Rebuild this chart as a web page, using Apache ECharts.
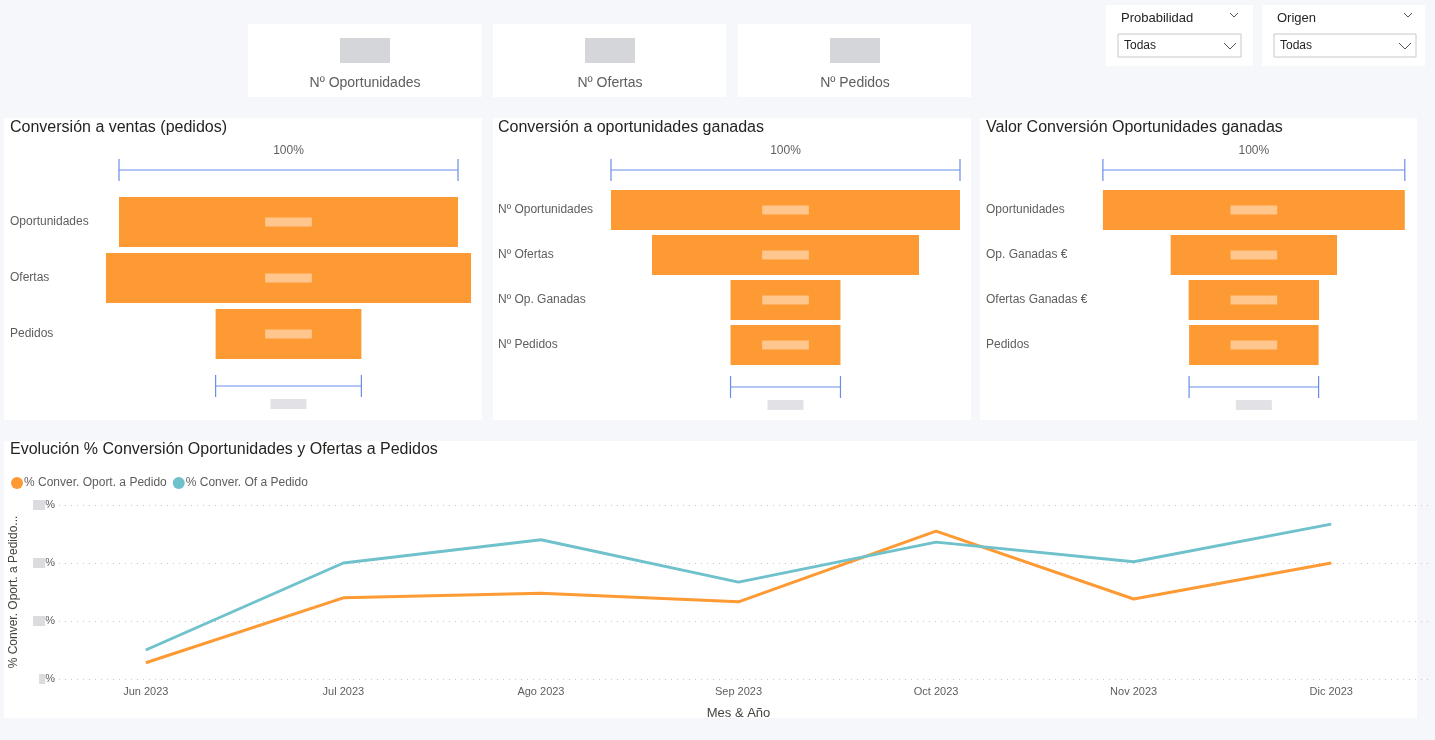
<!DOCTYPE html>
<html><head><meta charset="utf-8">
<script src="https://cdn.jsdelivr.net/npm/echarts@6/dist/echarts.min.js"></script>
<style>html,body{margin:0;padding:0;background:#f6f7fb}#c{width:1435px;height:740px}</style>
</head><body><div id="c"></div>
<script>
// ---- data ----
const months = ['Jun 2023','Jul 2023','Ago 2023','Sep 2023','Oct 2023','Nov 2023','Dic 2023'];
const convOportPedido = [0.28,1.40,1.48,1.33,2.55,1.38,2.00];
const convOfPedido = [0.50,2.00,2.40,1.67,2.36,2.02,2.67];
const f1Cats = ['Oportunidades','Ofertas','Pedidos'];
const f1Vals = [1, 1.077, 0.43];
const f2Cats = ['Nº Oportunidades','Nº Ofertas','Nº Op. Ganadas','Nº Pedidos'];
const f2Vals = [1, 0.765, 0.315, 0.315];
const f3Cats = ['Oportunidades','Op. Ganadas €','Ofertas Ganadas €','Pedidos'];
const f3Vals = [1, 0.551, 0.432, 0.429];
const cardLabels = ['Nº Oportunidades','Nº Ofertas','Nº Pedidos'];

const chart = echarts.init(document.getElementById('c'));
const FONT = '"Liberation Sans", Arial, sans-serif';
const ORANGE = '#fe9a33', TEAL = '#6fc1cb', BLUE = '#6a8de8';

const funnels = [
  {cats:f1Cats, vals:f1Vals, center:288.5, unit:339, top:194, h:168, barW:50, dt:27, db:27},
  {cats:f2Cats, vals:f2Vals, center:785.5, unit:349, top:187.5, h:180, barW:40, dt:20, db:22},
  {cats:f3Cats, vals:f3Vals, center:1254.5, unit:303, top:187.5, h:180, barW:40, dt:20, db:22}
];
const panelLeft = [10, 498, 986];
const M = 1.2;
const grids = [], xAxes = [], yAxes = [], series = [];
funnels.forEach((f, i) => {
  const w = M * f.unit;
  grids.push({left: f.center - w/2, top: f.top, width: w, height: f.h});
  xAxes.push({gridIndex:i, type:'value', min:0, max:M, show:false});
  yAxes.push({gridIndex:i, type:'category', data:f.cats, inverse:true,
    axisLine:{show:false}, axisTick:{show:false},
    axisLabel:{align:'left', margin: f.center - w/2 - panelLeft[i], color:'#605e5c', fontSize:12, fontFamily:FONT}});
  series.push({type:'bar', xAxisIndex:i, yAxisIndex:i, stack:'f'+i, silent:true,
    itemStyle:{color:'transparent'}, barWidth:f.barW, data:f.vals.map(v => (M - v)/2)});
  series.push({type:'bar', xAxisIndex:i, yAxisIndex:i, stack:'f'+i, barWidth:f.barW,
    itemStyle:{color:ORANGE}, data:f.vals,
    label:{show:true, position:'inside', formatter:'{a|              }',
      rich:{a:{backgroundColor:'rgba(255,235,215,0.55)', height:9}}}});
  const n = f.vals.length;
  series.push({type:'custom', xAxisIndex:i, yAxisIndex:i, silent:true,
    data:[[f.vals[0], 0, -1], [f.vals[n-1], n-1, 1]],
    renderItem:(params, api) => {
      const v = api.value(0), ci = api.value(1), dir = api.value(2);
      const p0 = api.coord([(M - v)/2, ci]);
      const p1 = api.coord([(M + v)/2, ci]);
      const y = p0[1] + dir * (f.barW/2 + (dir < 0 ? f.dt : f.db));
      const st = {stroke:BLUE, lineWidth:1.2};
      const ch = [
        {type:'line', shape:{x1:p0[0], y1:y, x2:p1[0], y2:y}, style:st},
        {type:'line', shape:{x1:p0[0], y1:y-11, x2:p0[0], y2:y+11}, style:st},
        {type:'line', shape:{x1:p1[0], y1:y-11, x2:p1[0], y2:y+11}, style:st}
      ];
      const cx = (p0[0]+p1[0])/2;
      if (dir < 0) ch.push({type:'text', style:{text:'100%', x:cx, y:y-19, align:'center', verticalAlign:'middle', fill:'#605e5c', font:'12px '+FONT}});
      else ch.push({type:'rect', shape:{x:cx-18, y:y+13, width:36, height:10}, style:{fill:'#e2e2e6'}});
      return {type:'group', children:ch};
    }});
});

// line chart
grids.push({left:46, top:505, width:1384, height:174});
xAxes.push({gridIndex:3, type:'category', data:months, boundaryGap:true,
  axisLine:{show:false}, axisTick:{show:false},
  axisLabel:{color:'#605e5c', fontSize:11, fontFamily:FONT, margin:7},
  name:'Mes & Año', nameLocation:'middle', nameGap:28, nameTextStyle:{color:'#444', fontSize:13, fontFamily:FONT}});
yAxes.push({gridIndex:3, type:'value', min:0, max:3, interval:1,
  axisLine:{show:false}, axisTick:{show:false},
  splitLine:{lineStyle:{type:[1,5], color:'#c8c8c8'}},
  axisLabel:{formatter: v => '{b|' + (v===0?'  ':'    ') + '}%', color:'#605e5c', fontSize:11, margin:-8, fontFamily:FONT,
    rich:{b:{backgroundColor:'#dcdce0', height:10}}},
  name:'% Conver. Oport. a Pedido...', nameLocation:'middle', nameGap:27, nameRotate:90,
  nameTextStyle:{color:'#444', fontSize:12, fontFamily:FONT}});
series.push({name:'% Conver. Oport. a Pedido', type:'line', xAxisIndex:3, yAxisIndex:3, data:convOportPedido,
  showSymbol:false, lineStyle:{width:3, color:ORANGE}, itemStyle:{color:ORANGE}});
series.push({name:'% Conver. Of a Pedido', type:'line', xAxisIndex:3, yAxisIndex:3, data:convOfPedido,
  showSymbol:false, lineStyle:{width:3, color:TEAL}, itemStyle:{color:TEAL}});

// panels & text
const g = [];
const rect = (x,y,w,h) => g.push({type:'rect', shape:{x,y,width:w,height:h}, style:{fill:'#fff'}, z:-10});
rect(248,24,234,73); rect(493,24,233,73); rect(738,24,233,73);
rect(1106,5,147,61); rect(1262,5,163,61);
rect(4,118,478,302); rect(493,118,478,302); rect(980,118,437,302);
rect(4,441,1413,277);
[365,610,855].forEach((cx,i) => {
  g.push({type:'rect', shape:{x:cx-25,y:38,width:50,height:25}, style:{fill:'#d5d6da'}, z:-5});
  g.push({type:'text', style:{text:cardLabels[i], x:cx, y:83, align:'center', verticalAlign:'middle', fill:'#605e5c', font:'14px '+FONT}});
});
const titles = [['Conversión a ventas (pedidos)',10],['Conversión a oportunidades ganadas',498],['Valor Conversión Oportunidades ganadas',986]];
titles.forEach(t => g.push({type:'text', style:{text:t[0], x:t[1], y:128, verticalAlign:'middle', fill:'#252423', font:'16px '+FONT}}));
g.push({type:'text', style:{text:'Evolución % Conversión Oportunidades y Ofertas a Pedidos', x:10, y:450, verticalAlign:'middle', fill:'#252423', font:'16px '+FONT}});
[['Probabilidad',1121,1118,1241,1234],['Origen',1277,1274,1416,1408]].forEach(s => {
  g.push({type:'text', style:{text:s[0], x:s[1], y:18, verticalAlign:'middle', fill:'#252423', font:'13px '+FONT}});
  g.push({type:'polyline', shape:{points:[[s[4]-4,13],[s[4],17],[s[4]+4,13]]}, style:{stroke:'#555', fill:null, lineWidth:1}});
  g.push({type:'rect', shape:{x:s[2],y:34,width:s[3]-s[2],height:23}, style:{fill:'#fff', stroke:'#c8c8c8'}});
  g.push({type:'text', style:{text:'Todas', x:s[2]+6, y:46, verticalAlign:'middle', fill:'#252423', font:'12px '+FONT}});
  g.push({type:'polyline', shape:{points:[[s[3]-17,43],[s[3]-11,49],[s[3]-5,43]]}, style:{stroke:'#555', fill:null, lineWidth:1}});
});

chart.setOption({
  animation:false,
  grid:grids, xAxis:xAxes, yAxis:yAxes, series,
  legend:{left:6, top:472, itemWidth:12, itemHeight:12, itemGap:6, icon:'circle',
    data:['% Conver. Oport. a Pedido','% Conver. Of a Pedido'],
    textStyle:{color:'#605e5c', fontSize:12, fontFamily:FONT, padding:[0,0,0,-4]}},
  graphic:g
});
</script></body></html>
